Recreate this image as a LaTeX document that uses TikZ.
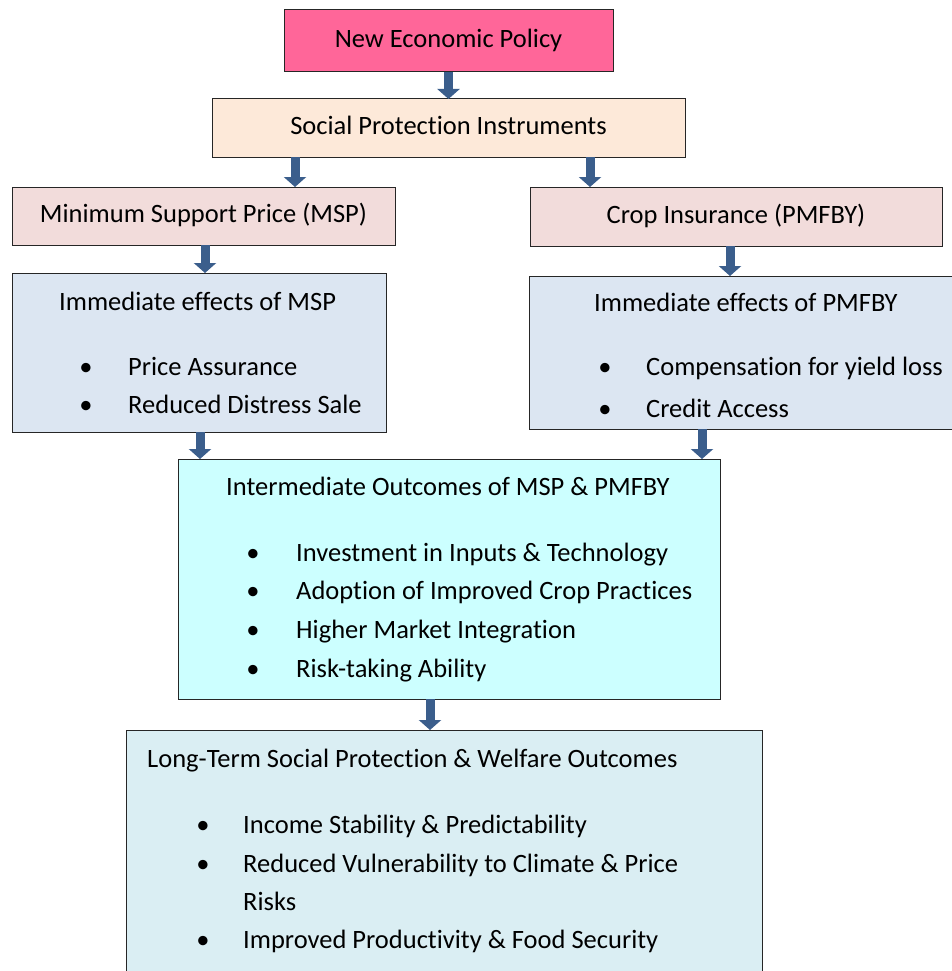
\documentclass[tikz,border=0pt]{standalone}
\usepackage{fontspec}
\setmainfont{Carlito}[Ligatures=NoCommon]
\usetikzlibrary{arrows.meta}
\definecolor{policyPink}{HTML}{FF6699}
\definecolor{protectPeach}{HTML}{FDE9D9}
\definecolor{schemeRose}{HTML}{F2DCDB}
\definecolor{effectBlue}{HTML}{DCE6F2}
\definecolor{outcomeCyan}{HTML}{CCFFFF}
\definecolor{welfareBlue}{HTML}{DAEEF3}
\definecolor{arrowBlue}{HTML}{3B5E8C}
\tikzset{
  box/.style={draw=black!85,line width=1pt,anchor=north west,inner sep=0pt,outer sep=0pt},
  headbox/.style={box,text height=18pt,text depth=5pt,align=center},
  txt/.style={anchor=base west,inner sep=0pt},
  dot/.style={anchor=base,inner sep=0pt},
  blockarrow/.style={-{Triangle[width=22pt,length=10pt]},line width=9pt,arrowBlue}
}
\begin{document}
\begin{tikzpicture}[x=1pt,y=-1pt,font=\fontsize{26.5}{39}\selectfont]
  \useasboundingbox (0,0) rectangle (952,971);
  % single line boxes
  \node[headbox,fill=policyPink,minimum width=329pt,minimum height=62pt] (nep) at (284,10)
       {New Economic Policy};
  \node[headbox,fill=protectPeach,minimum width=473pt,minimum height=58pt] (spi) at (212,99)
       {Social Protection Instruments};
  \node[headbox,fill=schemeRose,minimum width=383pt,minimum height=58pt] (msp) at (12,187)
       {Minimum Support Price (MSP)};
  \node[headbox,fill=schemeRose,minimum width=412pt,minimum height=59pt] (pmfby) at (530,187)
       {Crop Insurance (PMFBY)};

  % boxes with bullet lists
  \node[box,fill=effectBlue,minimum width=374pt,minimum height=159pt] (effmsp) at (12,273) {};
  \node[txt] (effmsp-title) at (59,310) {Immediate effects of MSP};
  \foreach \y/\t [count=\i] in {375/Price Assurance,413/Reduced Distress Sale} {
    \node[dot] (effmsp-b\i) at (86,\y) {•};
    \node[txt] (effmsp-i\i) at (128,\y) {\t};
  }

  \node[box,fill=effectBlue,minimum width=431pt,minimum height=153pt] (effpmf) at (529,276) {};
  \node[txt] (effpmf-title) at (594,311) {Immediate effects of PMFBY};
  \foreach \y/\t [count=\i] in {375/Compensation for yield loss,417/Credit Access} {
    \node[dot] (effpmf-b\i) at (605,\y) {•};
    \node[txt] (effpmf-i\i) at (646,\y) {\t};
  }

  \node[box,fill=outcomeCyan,minimum width=542pt,minimum height=240pt] (inter) at (178,459) {};
  \node[txt] (inter-title) at (226,495) {Intermediate Outcomes of MSP \& PMFBY};
  \foreach \y/\t [count=\i] in {561/Investment in Inputs \& Technology,
      599/Adoption of Improved Crop Practices,638/Higher Market Integration,
      677/Risk-taking Ability} {
    \node[dot] (inter-b\i) at (253,\y) {•};
    \node[txt] (inter-i\i) at (296,\y) {\t};
  }

  \node[box,fill=welfareBlue,minimum width=636pt,minimum height=260pt] (welfare) at (126,730) {};
  \node[txt] (welfare-title) at (147,767) {Long-Term Social Protection \& Welfare Outcomes};
  \foreach \y/\t [count=\i] in {833/Income Stability \& Predictability,
      872/Reduced Vulnerability to Climate \& Price,948/Improved Productivity \& Food Security} {
    \node[dot] (welfare-b\i) at (203,\y) {•};
    \node[txt] (welfare-i\i) at (243,\y) {\t};
  }
  \node[txt] (welfare-i2b) at (243,910) {Risks};

  % block arrows
  \draw[blockarrow] (nep.south) -- (spi.north);
  \draw[blockarrow] ([xshift=-153.5pt]spi.south) -- ([xshift=91.5pt]msp.north);
  \draw[blockarrow] ([xshift=141.5pt]spi.south) -- ([xshift=-146pt]pmfby.north);
  \draw[blockarrow] ([xshift=1.5pt]msp.south) -- ([xshift=6pt]effmsp.north);
  \draw[blockarrow] ([xshift=-6pt]pmfby.south) -- ([xshift=-14.5pt]effpmf.north);
  \draw[blockarrow] ([xshift=1pt]effmsp.south) -- ([xshift=-249pt]inter.north);
  \draw[blockarrow] ([xshift=-42.5pt]effpmf.south) -- ([xshift=253pt]inter.north);
  \draw[blockarrow] ([xshift=-19pt]inter.south) -- ([xshift=-14pt]welfare.north);
\end{tikzpicture}
\end{document}
